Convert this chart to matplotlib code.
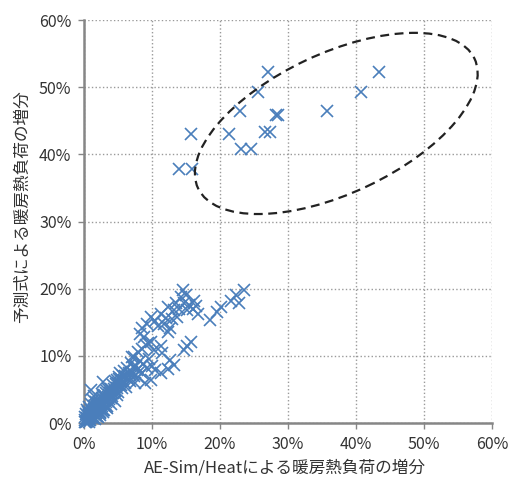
import matplotlib
matplotlib.use('Agg')
import matplotlib.pyplot as plt
from matplotlib.patches import Ellipse
from matplotlib.ticker import FuncFormatter, MultipleLocator

plt.rcParams['font.family'] = ['Noto Sans CJK JP', 'DejaVu Sans']

# Lower cluster (percent): AE-Sim/Heat vs prediction formula
x_cluster = [0.1, 0.3, 0.2, 0.5, 0.4, 0.7, 0.6, 0.9, 0.8, 1.1, 1.0, 1.3, 1.2, 1.5, 1.4, 1.7,
             1.6, 1.9, 1.8, 2.1, 2.0, 2.3, 2.2, 2.5, 2.4, 2.7, 2.6, 2.9, 2.8, 3.1, 3.0, 3.3,
             3.2, 3.5, 3.4, 3.7, 3.6, 3.9, 4.1, 4.3, 0.3, 0.5, 0.8, 1.0, 1.3, 1.5, 1.1, 0.2,
             1.6, 2.3, 2.8, 3.4, 4.0, 4.5, 1.8, 2.6, 2.0, 0.6, 3.8, 4.6,
             0.4, 0.9, 1.4, 1.9, 2.4, 2.9, 3.4, 0.7, 1.2, 1.7, 2.2, 2.7, 3.2, 3.7, 0.5, 1.0,
             1.5, 2.0, 2.5, 3.0, 3.5, 4.0, 4.4, 4.8, 5.2, 5.6, 0.8, 1.3, 1.8, 2.3, 2.8, 3.3,
             5.5, 6.1, 6.7, 7.1, 6.3, 5.7, 4.5, 5.0, 7.7, 8.2, 6.8, 7.3, 8.7, 5.2, 4.7,
             4.2, 4.8, 5.0, 5.4, 5.1, 5.8, 5.3, 6.0, 6.4, 5.9, 6.6, 6.9, 7.4, 7.8, 7.2, 7.0,
             7.9, 8.5, 8.9, 8.3, 8.0, 8.6, 9.1, 9.4, 9.8, 10.3, 9.6, 10.4, 9.8, 11.3, 12.3,
             13.2, 12.7, 11.3, 11.4, 14.7, 15.2, 15.7, 10.0, 6.2, 7.5, 4.9, 3.9, 2.8, 9.3, 8.8,
             8.3, 8.6, 9.3, 9.8, 11.3, 11.8, 12.3, 12.3, 12.7, 13.2, 13.7, 14.2, 14.5, 14.7,
             15.2, 16.2, 16.7, 15.5, 14.0, 13.0, 12.0, 10.5, 16.0, 15.0, 10.9, 13.5, 16.5,
             18.6, 19.6, 20.1, 21.6, 22.3, 22.8, 23.5]
y_cluster = [0.2, 0.1, 0.5, 0.3, 0.8, 0.5, 1.0, 0.7, 1.3, 0.9, 1.5, 1.1, 1.8, 1.3, 2.1, 1.5,
             2.4, 1.7, 2.7, 1.9, 3.0, 2.1, 3.2, 2.3, 3.5, 2.5, 3.7, 2.7, 4.0, 2.9, 4.2, 3.1,
             4.5, 3.3, 4.7, 3.5, 5.0, 3.7, 4.0, 4.4, 1.4, 2.0, 2.4, 2.9, 3.4, 4.0, 4.9, 0.9,
             0.6, 1.2, 1.6, 2.2, 2.8, 3.3, 3.2, 4.3, 0.9, 1.7, 4.5, 4.8,
             0.3, 0.4, 0.8, 1.1, 1.5, 1.9, 2.6, 1.2, 1.6, 2.0, 2.5, 3.0, 3.6, 4.1, 0.6, 1.9,
             2.5, 2.3, 2.8, 3.4, 3.9, 4.6, 5.1, 4.2, 5.6, 5.2, 0.2, 0.7, 1.0, 1.6, 2.0, 2.4,
             6.6, 6.0, 7.1, 7.6, 8.2, 7.0, 6.2, 4.6, 8.5, 7.7, 6.3, 7.0, 8.8, 6.9, 5.8,
             5.6, 5.2, 6.0, 5.6, 6.6, 6.2, 7.4, 7.0, 6.5, 7.8, 7.5, 8.9, 9.9, 7.9, 8.4, 9.9,
             6.9, 7.4, 5.9, 9.2, 10.5, 11.0, 11.6, 11.9, 12.1, 10.9, 9.6, 7.9, 6.4, 7.5, 8.0,
             8.7, 9.4, 11.4, 10.4, 10.9, 11.4, 12.1, 8.5, 5.4, 6.0, 6.4, 5.0, 6.1, 8.2, 12.8,
             13.3, 14.1, 14.8, 15.8, 16.3, 14.8, 17.3, 13.6, 14.1, 16.8, 15.8, 18.8, 19.8, 17.8,
             16.8, 18.1, 16.3, 17.5, 17.0, 15.5, 15.6, 15.2, 16.9, 19.0, 14.5, 17.9, 17.4,
             15.3, 16.6, 17.3, 18.1, 19.0, 17.8, 19.8]

# Upper group (circled)
x_upper = [27.1, 43.4, 25.6, 40.8, 22.9, 35.7, 28.3, 28.5, 15.7, 21.3, 26.6, 27.4,
           23.1, 24.6, 14.0, 15.9]
y_upper = [52.2, 52.2, 49.3, 49.3, 46.4, 46.4, 45.8, 45.9, 43.0, 43.0, 43.3, 43.3,
           40.8, 40.8, 37.8, 37.8]

fig = plt.figure(figsize=(5.09, 4.82), dpi=100)
ax = fig.add_axes([0.165, 0.1224, 0.8016, 0.8361])

ax.plot(x_cluster + x_upper, y_cluster + y_upper, linestyle='none', marker='x',
        markersize=9, markeredgewidth=1.2, color='#4a7ebb', clip_on=False, zorder=3)

ax.add_patch(Ellipse((37.1, 44.6), 45, 20.8, angle=25.5, fill=False,
                     linestyle=(0, (4, 2.5)), linewidth=1.6, edgecolor='#222222', zorder=4))

ax.set_xlim(0, 60)
ax.set_ylim(0, 60)
ax.xaxis.set_major_locator(MultipleLocator(10))
ax.yaxis.set_major_locator(MultipleLocator(10))
pct = FuncFormatter(lambda v, p: f'{v:.0f}%')
ax.xaxis.set_major_formatter(pct)
ax.yaxis.set_major_formatter(pct)

ax.grid(True, linestyle=':', color='#9a9a9a', linewidth=1.0)
ax.set_axisbelow(True)
for side in ['top', 'right']:
    ax.spines[side].set_visible(False)
for side in ['left', 'bottom']:
    ax.spines[side].set_color('#868686')
    ax.spines[side].set_linewidth(1.8)
ax.tick_params(direction='out', length=4, width=1, color='#868686',
               labelsize=11.5, labelcolor='#333333', pad=5)

ax.set_xlabel('AE-Sim/Heatによる暖房熱負荷の増分', fontsize=12, color='#333333')
ax.set_ylabel('予測式による暖房熱負荷の増分', fontsize=12, color='#333333')
ax.xaxis.set_label_coords(0.493, -0.09)
ax.yaxis.set_label_coords(-0.13, 0.536)

fig.savefig('out.png', dpi=100)
